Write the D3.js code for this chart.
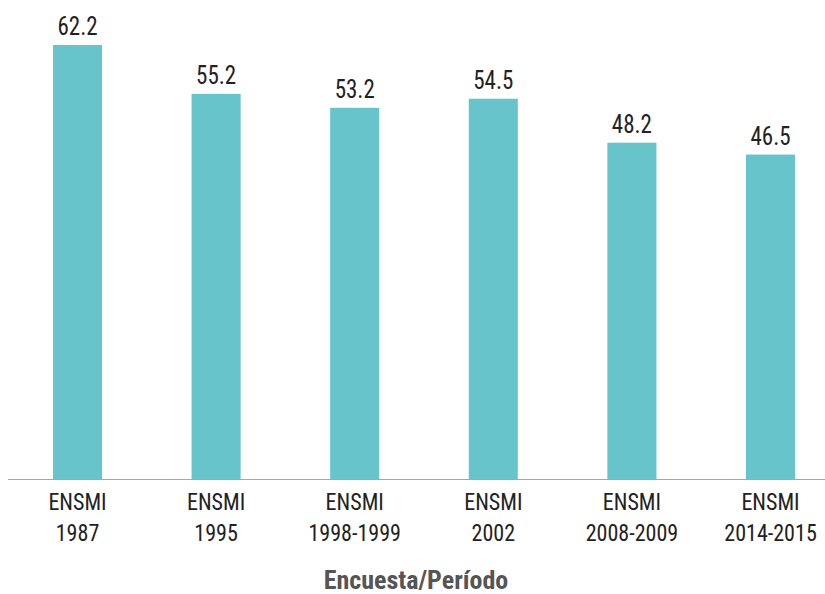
<!DOCTYPE html>
<html>
<head>
<meta charset="utf-8">
<script src="https://cdn.jsdelivr.net/npm/d3@7"></script>
<style>
  html, body { margin: 0; padding: 0; background: #fff; }
  svg text { font-family: "Liberation Sans Narrow", "Roboto Condensed", "DejaVu Sans Condensed", sans-serif; }
</style>
</head>
<body>
<svg id="chart"></svg>
<script>
// datos
const encuestas = ["ENSMI 1987", "ENSMI 1995", "ENSMI 1998-1999", "ENSMI 2002", "ENSMI 2008-2009", "ENSMI 2014-2015"];
const valores = [62.2, 55.2, 53.2, 54.5, 48.2, 46.5];
const tituloX = "Encuesta/Período";

const W = 825, H = 594;
const baseY = 479;

const svg = d3.select("#chart")
    .attr("width", W)
    .attr("height", H);

// escalas
const x = d3.scaleBand()
    .domain(encuestas)
    .range([8.2, 839.8])
    .paddingInner(0.646)
    .paddingOuter(0.323);

const y = d3.scaleLinear()
    .domain([0, 62.2])
    .range([baseY, 45]);

const cx = d => x(d) + x.bandwidth() / 2;

// barras
svg.append("g")
  .selectAll("rect")
  .data(valores)
  .join("rect")
    .attr("x", (d, i) => x(encuestas[i]))
    .attr("y", d => y(d))
    .attr("width", x.bandwidth())
    .attr("height", d => baseY - y(d))
    .attr("fill", "#68c4cb");

// eje
svg.append("line")
    .attr("x1", 8).attr("x2", W)
    .attr("y1", baseY + 0.5).attr("y2", baseY + 0.5)
    .attr("stroke", "#a6a6a6")
    .attr("stroke-width", 1);

// etiquetas de valor
svg.append("g")
  .selectAll("text")
  .data(valores)
  .join("text")
    .attr("transform", (d, i) => `translate(${cx(encuestas[i])},${y(d) - 10}) scale(0.92,1)`)
    .attr("text-anchor", "middle")
    .attr("font-size", 25)
    .attr("fill", "#222")
    .text(d => d.toFixed(1));

// etiquetas de categoría (dos líneas)
const cat = svg.append("g")
  .selectAll("text")
  .data(encuestas)
  .join("text")
    .attr("transform", d => `translate(${cx(d)},510) scale(0.9,1)`)
    .attr("text-anchor", "middle")
    .attr("font-size", 24.5)
    .attr("fill", "#222");

cat.selectAll("tspan")
  .data(d => { const k = d.indexOf(" "); return [d.slice(0, k), d.slice(k + 1)]; })
  .join("tspan")
    .attr("x", 0)
    .attr("dy", (d, i) => i === 0 ? 0 : 31)
    .text(d => d);

// título del eje
svg.append("text")
    .attr("x", 416)
    .attr("y", 589)
    .attr("text-anchor", "middle")
    .attr("font-size", 26)
    .attr("font-weight", "bold")
    .attr("fill", "#555")
    .text(tituloX);
</script>
</body>
</html>
